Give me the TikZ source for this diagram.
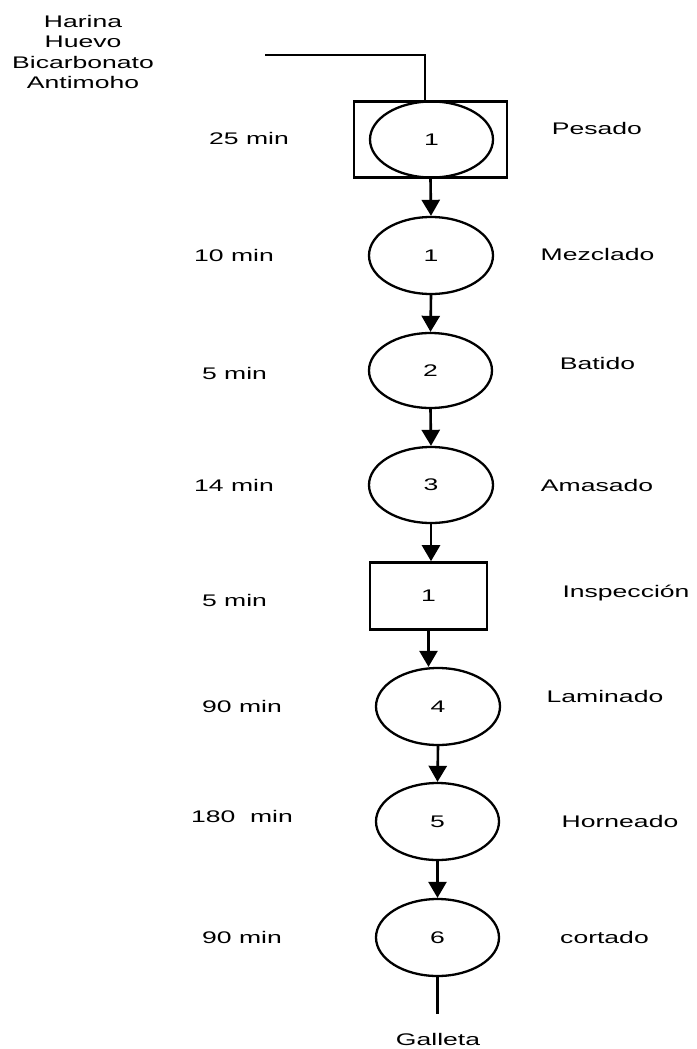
\documentclass[tikz,border=0pt]{standalone}
\usepackage{fontspec}
\setmainfont{Liberation Sans}
\usetikzlibrary{shapes.geometric,arrows.meta}
% horizontally stretched lettering
\newcommand\stretchtxt[1]{\scalebox{1.58}[1]{#1}}
\begin{document}
\begin{tikzpicture}[x=1pt,y=-1pt,
  every node/.style={inner sep=0pt,font=\fontsize{16.8}{20.6}\selectfont},
  line/.style={line width=2.6pt},
  arr/.style={line width=2.6pt,-{Triangle[width=18pt,length=16pt]}},
  opn/.style={draw,ellipse,line width=2.3pt,minimum width=123pt,minimum height=76pt},
  chk/.style={draw,rectangle,line width=2.6pt},
  lbl/.style={anchor=base}]
\useasboundingbox (0,0) rectangle (696,1049);

% raw materials
\node[align=center] (raw) at (83,52)
  {\stretchtxt{Harina}\\\stretchtxt{Huevo}\\\stretchtxt{Bicarbonato}\\\stretchtxt{Antimoho}};
\coordinate (src) at (265,55);

% process chain
\node[chk,minimum width=153pt,minimum height=76pt] (b1) at (430.5,139.5) {};
\node[opn] (e1) at (431.5,139.5) {\stretchtxt{1}};
\node[opn,minimum width=124pt,minimum height=77pt] (e2) at (431,255.5) {\stretchtxt{1}};
\node[opn,minimum height=75pt] (e3) at (430.5,370.5) {\stretchtxt{2}};
\node[opn,minimum width=124pt] (e4) at (431,485) {\stretchtxt{3}};
\node[chk,minimum width=117pt,minimum height=67pt] (insp) at (428.5,596) {\stretchtxt{1}};
\node[opn,minimum width=124pt,minimum height=77pt] (e5) at (438,706.5) {\stretchtxt{4}};
\node[opn,minimum height=77pt] (e6) at (437.5,821.5) {\stretchtxt{5}};
\node[opn,minimum height=77pt] (e7) at (437.5,937.5) {\stretchtxt{6}};
\coordinate (out) at (437.5,1014);
\node[lbl] (prod) at (438,1045.5) {\stretchtxt{Galleta}};

% connectors
\draw[line] (src) -| ([xshift=-5.5pt]b1.north);
\draw[arr] (b1.south) -- (e2.north);
\draw[arr] (e2.south) -- (e3.north);
\draw[arr] (e3.south) -- (e4.north);
\draw[arr] (e4.south) -- (insp.north -| e4.south);
\draw[arr] (insp.south) -- (insp.south |- e5.north);
\draw[arr] (e5.south) -- (e6.north);
\draw[arr] (e6.south) -- (e7.north);
\draw[line] (e7.south) -- (out);

% times
\node[lbl] (t1) at (249,144.7) {\stretchtxt{25 min}};
\node[lbl] (t2) at (234,261) {\stretchtxt{10 min}};
\node[lbl] (t3) at (234.5,379.5) {\stretchtxt{5 min}};
\node[lbl] (t4) at (234,491.5) {\stretchtxt{14 min}};
\node[lbl] (t5) at (234.5,606) {\stretchtxt{5 min}};
\node[lbl] (t6) at (242,712.7) {\stretchtxt{90 min}};
\node[lbl] (t7) at (242,822.7) {\stretchtxt{180\ \ min}};
\node[lbl] (t8) at (242,943) {\stretchtxt{90 min}};

% operation names
\node[lbl] (n1) at (597,134.8) {\stretchtxt{Pesado}};
\node[lbl] (n2) at (597.5,260.5) {\stretchtxt{Mezclado}};
\node[lbl] (n3) at (597.5,369) {\stretchtxt{Batido}};
\node[lbl] (n4) at (597,491.5) {\stretchtxt{Amasado}};
\node[lbl] (n5) at (626,597) {\stretchtxt{Inspección}};
\node[lbl] (n6) at (605,702.7) {\stretchtxt{Laminado}};
\node[lbl] (n7) at (620,827) {\stretchtxt{Horneado}};
\node[lbl] (n8) at (604.5,943) {\stretchtxt{cortado}};
\end{tikzpicture}
\end{document}
